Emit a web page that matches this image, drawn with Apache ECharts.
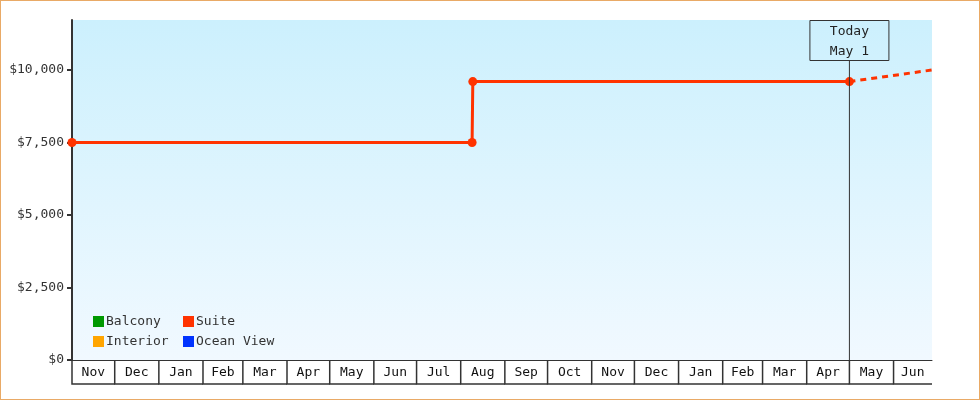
<!DOCTYPE html>
<html>
<head>
<meta charset="utf-8">
<script src="https://cdn.jsdelivr.net/npm/echarts@6/dist/echarts.min.js"></script>
<style>
html,body{margin:0;padding:0;background:#fff;}
#chart{width:978px;height:398px;border:1px solid #e9aa66;}
</style>
</head>
<body>
<div id="chart"></div>
<script>
// ---- data ----
var axisStart = '2020-11-01';
var axisEnd = '2022-06-28';
var todayDate = '2022-05-01';
var todayLabel = ['Today', 'May 1'];
var suiteDates = ['2020-11-01', '2021-08-09', '2021-08-09T12:00', '2022-05-01'];
var suiteValues = [7500, 7500, 9600, 9600];
var forecastDates = ['2022-05-01', '2022-06-28'];
var forecastValues = [9600, 10000];
var monthStarts = ['2020-11-01','2020-12-01','2021-01-01','2021-02-01','2021-03-01','2021-04-01',
  '2021-05-01','2021-06-01','2021-07-01','2021-08-01','2021-09-01','2021-10-01','2021-11-01',
  '2021-12-01','2022-01-01','2022-02-01','2022-03-01','2022-04-01','2022-05-01','2022-06-01'];
var monthLabels = ['Nov','Dec','Jan','Feb','Mar','Apr','May','Jun','Jul','Aug','Sep','Oct','Nov',
  'Dec','Jan','Feb','Mar','Apr','May','Jun'];
var yTicks = [0, 2500, 5000, 7500, 10000];
var yMax = 11724;

var FONT = 'DejaVu Sans Mono';
var t = function (s) { return +new Date(s); };
var xMin = t(axisStart), xMax = t(axisEnd);

var monthData = monthStarts.map(function (s, i) {
  var end = i + 1 < monthStarts.length ? t(monthStarts[i + 1]) : xMax;
  return [t(s), Math.min(end, xMax), monthLabels[i]];
});

var legendBase = {
  orient: 'vertical', top: 310, padding: 0,
  itemWidth: 11, itemHeight: 11, itemGap: 7, icon: 'rect', selectedMode: false,
  textStyle: {fontFamily: FONT, fontSize: 13, color: '#333', padding: [0, 0, 0, -3]}
};

var chart = echarts.init(document.getElementById('chart'));
chart.setOption({
  animation: false,
  grid: {
    left: 71, right: 47, top: 19, bottom: 39,
    show: true, borderWidth: 0,
    backgroundColor: {
      type: 'linear', x: 0, y: 0, x2: 0, y2: 1,
      colorStops: [{offset: 0, color: '#ccf0fd'}, {offset: 1, color: '#f1f9ff'}]
    }
  },
  legend: [
    Object.assign({}, legendBase, {data: ['Balcony', 'Interior'], left: 92, top: 314}),
    Object.assign({}, legendBase, {data: ['Suite', 'Ocean View'], left: 182, top: 314})
  ],
  xAxis: {
    type: 'time', min: xMin, max: xMax,
    axisLine: {show: true, lineStyle: {color: '#333', width: 1}},
    axisTick: {show: false}, axisLabel: {show: false}, splitLine: {show: false}
  },
  yAxis: {
    type: 'value', min: 0, max: yMax, interval: 2500,
    axisLine: {show: true, lineStyle: {color: '#333', width: 2}},
    axisTick: {show: true, length: 5, lineStyle: {color: '#333', width: 2}, customValues: yTicks},
    axisLabel: {
      customValues: yTicks, margin: 8, fontFamily: FONT, fontSize: 13, color: '#333',
      formatter: function (v) { return '$' + v.toLocaleString('en-US'); }
    },
    splitLine: {show: false}
  },
  series: [
    {name: 'Balcony', type: 'line', data: [], itemStyle: {color: '#009900'}},
    {name: 'Interior', type: 'line', data: [], itemStyle: {color: '#ffa500'}},
    {name: 'Ocean View', type: 'line', data: [], itemStyle: {color: '#0033ff'}},
    {
      name: 'Suite', type: 'line', z: 5,
      data: suiteDates.map(function (d, i) { return [t(d), suiteValues[i]]; }),
      symbol: 'circle', symbolSize: 9,
      lineStyle: {color: '#ff3300', width: 3},
      itemStyle: {color: '#ff3300'}
    },
    {
      name: 'Suite', type: 'line', z: 4,
      data: forecastDates.map(function (d, i) { return [t(d), forecastValues[i]]; }),
      showSymbol: false, symbol: 'none',
      lineStyle: {color: '#ff3300', width: 3, type: [6, 5]}
    },
    {
      type: 'custom', z: 3, clip: false, silent: true,
      data: monthData,
      renderItem: function (params, api) {
        var a = api.coord([api.value(0), 0]);
        var b = api.coord([api.value(1), 0]);
        var h = 24;
        return {
          type: 'group',
          children: [{
            type: 'polyline',
            shape: {points: [[a[0], a[1]], [a[0], a[1] + h], [b[0], a[1] + h]]},
            style: {stroke: '#333', lineWidth: 1.5, fill: null}
          }, {
            type: 'text',
            style: {
              text: monthData[params.dataIndex][2], x: (a[0] + b[0]) / 2, y: a[1] + h / 2 + 1,
              align: 'center', verticalAlign: 'middle',
              font: '13px "' + FONT + '"', fill: '#111'
            }
          }]
        };
      }
    },
    {
      type: 'custom', z: 6, clip: false, silent: true,
      data: [[t(todayDate)]],
      renderItem: function (params, api) {
        var bottom = api.coord([api.value(0), 0]);
        var top = api.coord([api.value(0), yMax]);
        var w = 79, h = 40, x = bottom[0];
        return {
          type: 'group',
          children: [{
            type: 'line',
            shape: {x1: x, y1: top[1] + h, x2: x, y2: bottom[1]},
            style: {stroke: '#333', lineWidth: 1}
          }, {
            type: 'rect',
            shape: {x: x - w / 2, y: top[1] + 0.5, width: w, height: h},
            style: {stroke: '#333', lineWidth: 1, fill: null}
          }, {
            type: 'text',
            style: {
              text: todayLabel.join('\n'), x: x, y: top[1] + h / 2 + 2,
              align: 'center', verticalAlign: 'middle', lineHeight: 20,
              font: '13px "' + FONT + '"', fill: '#222'
            }
          }]
        };
      }
    }
  ]
});
</script>
</body>
</html>
